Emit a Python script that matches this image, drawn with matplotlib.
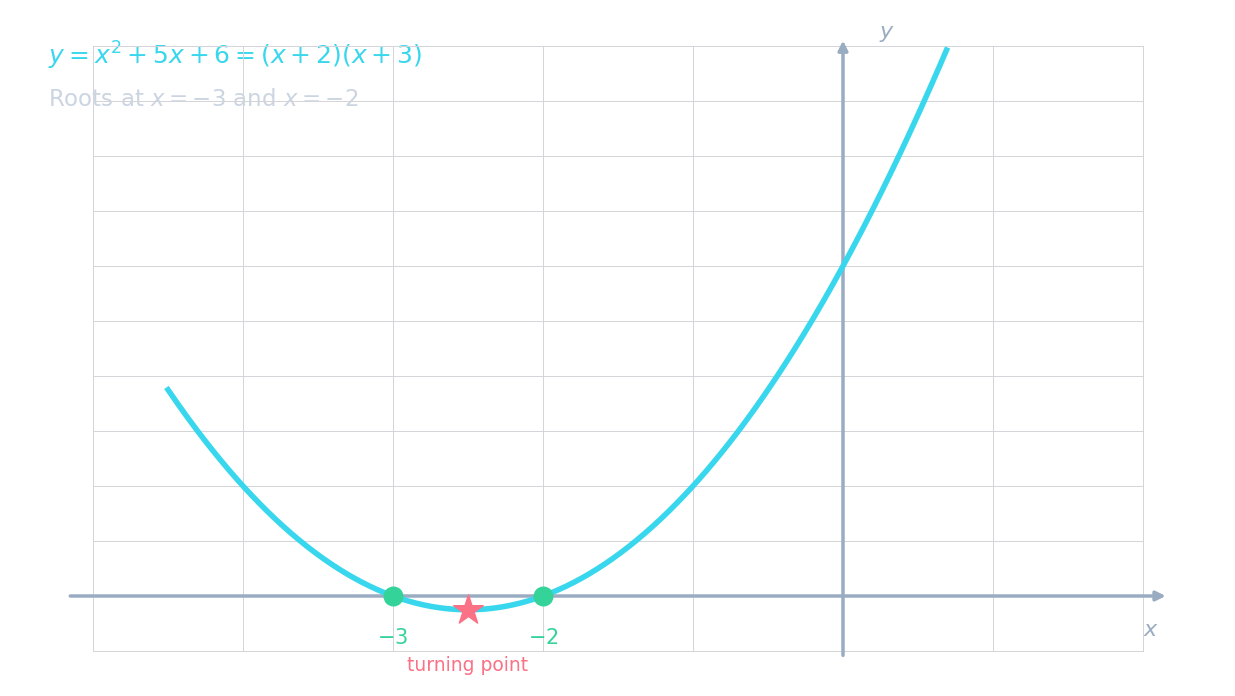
import numpy as np
import matplotlib.pyplot as plt

# curve y = x^2 + 5x + 6
x_start = -4.5
x_end = 0.69
roots_x = [-3, -2]
roots_y = [0, 0]
root_labels = ["$-3$", "$-2$"]
vertex = (-2.5, -0.25)
x_ticks = list(range(-5, 3))
y_ticks = list(range(-1, 11))

CYAN = "#38d7ed"
GREEN = "#34d399"
ROSE = "#fb7185"
SLATE = "#9aacc2"
LIGHT = "#cbd5e1"

fig = plt.figure(figsize=(12.35, 6.96), dpi=100)
ax = fig.add_axes([93 / 1235, 45 / 696, 1050 / 1235, 605 / 696])

ax.set_xlim(-5, 2)
ax.set_ylim(-1, 10)
ax.set_xticks(x_ticks)
ax.set_yticks(y_ticks)
ax.tick_params(length=0, labelbottom=False, labelleft=False)
ax.grid(True, color="#d4d4d8", linewidth=0.7)
for line in ax.get_xgridlines() + ax.get_ygridlines():
    line.set_clip_on(False)
for s in ax.spines.values():
    s.set_visible(False)

# axes with arrows
ax.annotate("", xy=(2.17, 0), xytext=(-5.17, 0),
            arrowprops=dict(arrowstyle="-|>", color=SLATE, lw=2.5, mutation_scale=14),
            annotation_clip=False)
ax.annotate("", xy=(0, 10.15), xytext=(0, -1.13),
            arrowprops=dict(arrowstyle="-|>", color=SLATE, lw=2.5, mutation_scale=14),
            annotation_clip=False)
ax.text(2.05, -0.62, "$x$", color=SLATE, fontsize=16, ha="center", va="center")
ax.text(0.29, 10.22, "$y$", color=SLATE, fontsize=16, ha="center", va="center", clip_on=False)

xs = np.linspace(x_start, x_end, 400)
ax.plot(xs, xs ** 2 + 5 * xs + 6, color=CYAN, lw=4, zorder=3, clip_on=False)

ax.scatter(roots_x, roots_y, s=180, color=GREEN, zorder=4)
for rx, lab in zip(roots_x, root_labels):
    ax.text(rx, -0.76, lab, color=GREEN, fontsize=15, ha="center", va="center")

ax.scatter([vertex[0]], [vertex[1]], marker="*", s=500, color=ROSE, zorder=5)
ax.text(vertex[0], -1.26, "turning point", color=ROSE, fontsize=13.5,
        ha="center", va="center", clip_on=False)

# titles sit beneath the grid
ax.text(48 / 1235, 1 - 56 / 696, "$y = x^2 + 5x + 6 = (x + 2)(x + 3)$",
        transform=fig.transFigure, color=CYAN, fontsize=18, ha="left", va="center",
        zorder=0.1, clip_on=False)
ax.text(48 / 1235, 1 - 100 / 696, "Roots at $x = -3$ and $x = -2$",
        transform=fig.transFigure, color=LIGHT, fontsize=16.5, ha="left", va="center",
        zorder=0.1, clip_on=False)

fig.savefig("out.png", dpi=100)
